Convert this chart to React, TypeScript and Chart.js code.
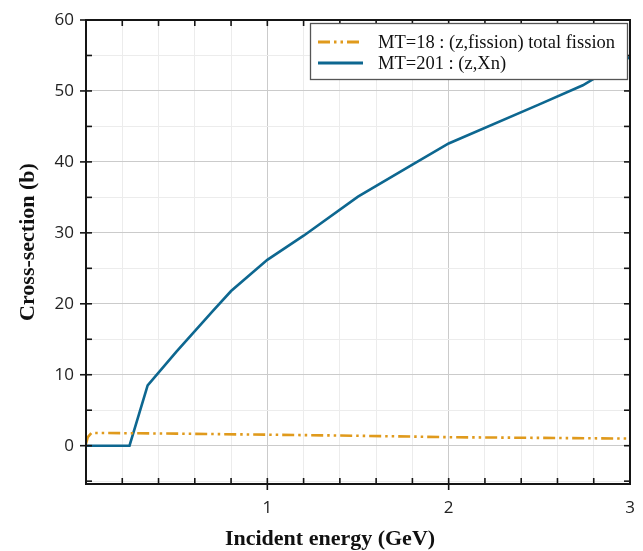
import React, { useEffect, useRef } from "react";
import { Chart, registerables } from "chart.js";

Chart.register(...registerables);

// ---- data ----
const fissionLabel = "MT=18 : (z,fission) total fission";
const fissionEnergy = [0, 0.01, 0.03, 0.5, 1.0, 1.5, 2.0, 2.5, 3.0];
const fissionXS = [0.3, 1.2, 1.8, 1.7, 1.55, 1.4, 1.2, 1.1, 1.0];

const xnLabel = "MT=201 : (z,Xn)";
const xnEnergy = [0, 0.24, 0.34, 0.5, 0.7, 0.8, 1.0, 1.2, 1.5, 1.8, 2.0, 2.5, 2.74, 3.0];
const xnXS = [0, 0, 8.5, 13.3, 19.0, 21.8, 26.2, 29.6, 35.1, 39.6, 42.6, 48.1, 50.8, 54.8];

const xMajorTicks = [1, 2, 3];
const yMajorTicks = [0, 10, 20, 30, 40, 50, 60];
const xMinorStep = 0.2;
const yMinorStep = 5;

const xTitle = "Incident energy (GeV)";
const yTitle = "Cross-section (b)";

const BLUE = "#0d6790";
const ORANGE = "#e09a1c";

const near = (a: number, b: number) => Math.abs(a - b) < 1e-6;
const isXMajor = (v: number) => xMajorTicks.some((m) => near(m, v));
const isYMajor = (v: number) => yMajorTicks.some((m) => near(m, v));

const framePlugin = {
  id: "frameTicks",
  afterDatasetsDraw(chart: any) {
    const { ctx, chartArea: a, scales } = chart;
    const x = scales.x;
    const y = scales.y;
    ctx.save();
    ctx.strokeStyle = "#151515";
    ctx.lineWidth = 1.6;
    const line = (x1: number, y1: number, x2: number, y2: number) => {
      ctx.beginPath();
      ctx.moveTo(x1, y1);
      ctx.lineTo(x2, y2);
      ctx.stroke();
    };
    x.ticks.forEach((t: any) => {
      const px = x.getPixelForValue(t.value);
      if (px <= a.left + 1 || px >= a.right - 1) return;
      const major = isXMajor(t.value);
      line(px, a.bottom, px, a.bottom - 6);
      if (major) line(px, a.bottom, px, a.bottom + 6);
      line(px, a.top, px, a.top + 6);
    });
    y.ticks.forEach((t: any) => {
      const py = y.getPixelForValue(t.value);
      if (py <= a.top - 1 || py >= a.bottom + 1) return;
      const major = isYMajor(t.value);
      line(a.left, py, a.left + 6, py);
      if (major) line(a.left, py, a.left - 6, py);
      line(a.right, py, a.right - 6, py);
    });
    ctx.lineWidth = 2;
    ctx.strokeRect(a.left, a.top, a.right - a.left, a.bottom - a.top);
    ctx.restore();
  },
  afterDraw(chart: any) {
    const { ctx } = chart;
    ctx.save();
    // axis titles
    ctx.fillStyle = "#111";
    ctx.font = "bold 22px 'Liberation Serif', 'Times New Roman', serif";
    ctx.textAlign = "center";
    ctx.textBaseline = "middle";
    ctx.fillText(xTitle, 330, 539);
    ctx.translate(28, 242);
    ctx.rotate(-Math.PI / 2);
    ctx.fillText(yTitle, 0, 0);
    ctx.restore();

    // legend
    ctx.save();
    const bx = 310.5, by = 23.5, bw = 317, bh = 56;
    ctx.fillStyle = "#ffffff";
    ctx.fillRect(bx, by, bw, bh);
    ctx.strokeStyle = "#555";
    ctx.lineWidth = 1.3;
    ctx.strokeRect(bx, by, bw, bh);
    const rows = [42, 63];
    chart.data.datasets.forEach((ds: any, i: number) => {
      const yy = rows[i];
      ctx.beginPath();
      ctx.strokeStyle = ds.borderColor;
      ctx.lineWidth = 3;
      ctx.setLineDash(ds.borderDash || []);
      ctx.moveTo(318, yy);
      ctx.lineTo(363, yy);
      ctx.stroke();
      ctx.setLineDash([]);
      ctx.fillStyle = "#111";
      ctx.font = "18.5px 'Liberation Serif', 'Times New Roman', serif";
      ctx.textAlign = "left";
      ctx.textBaseline = "middle";
      ctx.fillText(ds.label, 378, yy + 1);
    });
    ctx.restore();
  },
};

export default function App() {
  const ref = useRef<HTMLCanvasElement>(null);
  useEffect(() => {
    if (!ref.current) return;
    const chart = new Chart(ref.current, {
      type: "line",
      data: {
        datasets: [
          {
            label: fissionLabel,
            data: fissionEnergy.map((e, i) => ({ x: e, y: fissionXS[i] })),
            borderColor: ORANGE,
            borderWidth: 2.6,
            borderDash: [12, 4, 2.5, 4, 2.5, 4],
            pointRadius: 0,
            tension: 0,
            fill: false,
          },
          {
            label: xnLabel,
            data: xnEnergy.map((e, i) => ({ x: e, y: xnXS[i] })),
            borderColor: BLUE,
            borderWidth: 2.6,
            pointRadius: 0,
            tension: 0,
            fill: false,
          },
        ],
      },
      options: {
        responsive: false,
        animation: false,
        devicePixelRatio: 1,
        layout: { padding: { left: 0, top: 20, right: 13, bottom: 0 } },
        plugins: { legend: { display: false }, tooltip: { enabled: false } },
        scales: {
          x: {
            type: "linear",
            min: 0,
            max: 3,
            border: { display: false },
            grid: {
              drawTicks: false,
              lineWidth: 1,
              color: (c: any) => (isXMajor(c.tick.value) ? "#cbcbcb" : "#ececec"),
            },
            afterBuildTicks: (s: any) => {
              const ticks = [];
              const n = Math.round((s.max - s.min) / xMinorStep);
              for (let i = 0; i <= n; i++) ticks.push({ value: s.min + i * xMinorStep });
              s.ticks = ticks;
            },
            afterFit: (s: any) => {
              s.height = 67;
              s.paddingLeft = 0;
              s.paddingRight = 0;
            },
            ticks: {
              padding: 14,
              autoSkip: false,
              maxRotation: 0,
              color: "#222",
              font: { family: "'Open Sans', sans-serif", size: 17 },
              callback: (v: any) => {
                const m = xMajorTicks.find((t) => near(t, Number(v)));
                return m !== undefined ? String(m) : "";
              },
            },
          },
          y: {
            type: "linear",
            min: -5.4,
            max: 60,
            border: { display: false },
            grid: {
              drawTicks: false,
              lineWidth: 1,
              color: (c: any) => (isYMajor(c.tick.value) ? "#cbcbcb" : "#ececec"),
            },
            afterBuildTicks: (s: any) => {
              const ticks = [];
              const start = Math.ceil(s.min / yMinorStep) * yMinorStep;
              for (let v = start; v <= s.max + 1e-9; v += yMinorStep) ticks.push({ value: v });
              s.ticks = ticks;
            },
            afterFit: (s: any) => {
              s.width = 86;
              s.paddingTop = 0;
              s.paddingBottom = 0;
            },
            ticks: {
              padding: 12,
              autoSkip: false,
              color: "#222",
              font: { family: "'Open Sans', sans-serif", size: 17 },
              callback: (v: any) => {
                const m = yMajorTicks.find((t) => near(t, Number(v)));
                return m !== undefined ? String(m) : "";
              },
            },
          },
        },
      },
      plugins: [framePlugin],
    });
    return () => chart.destroy();
  }, []);
  return (
    <div style={{ position: "fixed", left: 0, top: 0, width: 643, height: 551, background: "#fff" }}>
      <canvas ref={ref} width={643} height={551} style={{ width: 643, height: 551, display: "block" }} />
    </div>
  );
}
